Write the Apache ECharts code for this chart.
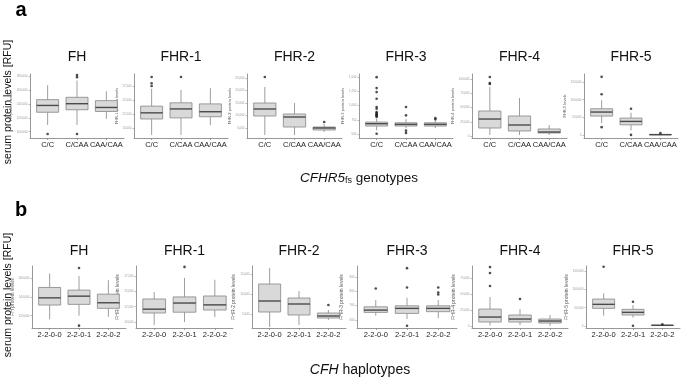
<!DOCTYPE html>
<html><head><meta charset="utf-8">
<script src="https://cdn.jsdelivr.net/npm/echarts@6/dist/echarts.min.js"></script>
<style>html,body{margin:0;padding:0;background:#fff}#c{width:685px;height:383px}</style>
</head><body><div id="c"></div>
<script>
// ---------------- DATA ----------------
const proteins = ['FH', 'FHR-1', 'FHR-2', 'FHR-3', 'FHR-4', 'FHR-5'];
const genotypes = ['C/C', 'C/CAA', 'CAA/CAA'];
const haplotypes = ['2-2-0-0', '2-2-0-1', '2-2-0-2'];
const yNamesA = ['FH protein levels', 'FHR-1 protein levels', 'FHR-2 protein levels', 'FHR-3 protein levels', 'FHR-4 protein levels', 'FHR-5 levels'];
const yNamesB = ['FH protein levels', 'FHR-1 protein levels', 'FHR-2 protein levels', 'FHR-3 protein levels', 'FHR-4 protein levels', 'FHR-5 protein levels'];

// box stats per group: [lower whisker, Q1, median, Q3, upper whisker]
// outliers: [group index, value]
// panel a (CFHR5fs genotypes)
const aFH = [[109700,128000,137800,146100,166900],[109700,131600,140300,149500,173700],[118500,129100,134900,144700,158200]];
const aFHout = [[0,96700],[1,181500],[1,178500],[1,96700]];
const aFHticks = [100000,120000,140000,160000,180000];

const aFHR1 = [[8750,11600,12700,13900,17000],[8750,11800,13400,14500,16800],[10500,12000,12900,14300,17100]];
const aFHR1out = [[0,19100],[0,18000],[0,17500],[1,19100]];
const aFHR1ticks = [10000,12500,15000,17500];

const aFHR2 = [[2200,9800,12600,15000,21400],[2200,5400,9400,10600,15000],[3400,4200,5000,5400,6600]];
const aFHR2out = [[0,25400],[2,7400]];
const aFHR2ticks = [5000,10000,15000,20000,25000];

const aFHR3 = [[565,640,681,710,768],[600,640,670,698,760],[605,640,670,698,733]];
const aFHR3out = [[0,1500],[0,1307],[0,1237],[0,1120],[0,974],[0,945],[0,886],[0,870],[0,856],[0,840],[0,828],[0,815],[0,798],[0,505],[1,974],[1,828],[1,560],[1,520],[2,781],[2,758]];
const aFHR3ticks = [500,750,1000,1250,1500];

const aFHR4 = [[1750,14000,29800,43900,86000],[1750,8800,19300,35100,66700],[1750,5300,7000,12300,19300]];
const aFHR4out = [[0,103500],[0,93000],[0,91200]];
const aFHR4ticks = [0,25000,50000,75000,100000];

const aFHR5 = [[34600,54300,65600,74800,98500],[14100,29800,39400,48700,63600],[1000,1800,2400,3000,3800]];
const aFHR5out = [[0,164000],[0,115400],[0,23400],[1,74800],[1,1700],[2,6500]];
const aFHR5ticks = [0,50000,100000,150000];

// panel b (CFH haplotypes)
const bFH = [[116200,131300,138900,149900,164600],[120000,132000,140700,147100,162100],[118900,127800,133700,142800,157600]];
const bFHout = [[1,170500],[1,109500]];
const bFHticks = [120000,140000,160000];

const bFHR1 = [[9500,11470,12100,13760,14900],[10000,11600,13100,14100,17200],[10800,11960,12800,14250,16900]];
const bFHR1out = [[1,19000]];
const bFHR1ticks = [10000,12500,15000,17500];

const bFHR2 = [[1750,5500,8250,12500,16500],[2250,4750,7500,9000,10750],[3500,4000,4500,5250,6000]];
const bFHR2out = [[2,7250]];
const bFHR2ticks = [5000,10000,15000];

const bFHR3 = [[630,653,669,692,739],[607,646,681,699,755],[612,658,681,699,739]];
const bFHR3out = [[0,820],[1,962],[1,827],[1,560],[2,827],[2,792],[2,778]];
const bFHR3ticks = [600,700,800,900];

const bFHR4 = [[1000,6250,14000,26500,45300],[1500,6250,10900,17200,26500],[500,4700,7800,10900,17200]];
const bFHR4out = [[0,92000],[0,82800],[0,62500],[1,42200]];
const bFHR4ticks = [0,25000,50000,75000];

const bFHR5 = [[28200,48200,59200,73600,89200],[22700,30000,37300,45500,57300],[500,1200,1800,2500,3500]];
const bFHR5out = [[0,161800],[1,66300],[1,800],[2,4500]];
const bFHR5ticks = [0,50000,100000,150000];

// ---------------- LAYOUT / STYLE ----------------
const FONT = '"Liberation Sans", Arial, Helvetica, sans-serif';
const AX = '#8c8c8c';
const L = {
  a: { left: [30, 134, 247, 359, 472, 584], width: [94, 94, 95, 94, 95, 94], top: 74, height: 64, titleY: 57,
       ranges: [[91000,183000],[8200,19650],[1000,26600],[430,1555],[-3500,108800],[-7000,172000]],
       nameSize: 4, nameGap: 13, catSize: 7.5 },
  b: { left: [32, 136, 252, 357, 472, 586], width: [94, 97, 94, 100, 96, 94], top: 266, height: 62, titleY: 251,
       ranges: [[107000,172600],[9020,19150],[1500,17000],[544,977],[-3100,93750],[-5500,164000]],
       nameSize: 5, nameGap: 13, catSize: 7.5 }
};

const rows = [
  { key: 'a', cats: genotypes, names: yNamesA,
    stats: [aFH, aFHR1, aFHR2, aFHR3, aFHR4, aFHR5],
    outs: [aFHout, aFHR1out, aFHR2out, aFHR3out, aFHR4out, aFHR5out],
    ticks: [aFHticks, aFHR1ticks, aFHR2ticks, aFHR3ticks, aFHR4ticks, aFHR5ticks] },
  { key: 'b', cats: haplotypes, names: yNamesB,
    stats: [bFH, bFHR1, bFHR2, bFHR3, bFHR4, bFHR5],
    outs: [bFHout, bFHR1out, bFHR2out, bFHR3out, bFHR4out, bFHR5out],
    ticks: [bFHticks, bFHR1ticks, bFHR2ticks, bFHR3ticks, bFHR4ticks, bFHR5ticks] }
];

function renderBox(params, api) {
  const x = api.value(0);
  const lo = api.coord([x, api.value(1)]);
  const q1 = api.coord([x, api.value(2)]);
  const md = api.coord([x, api.value(3)]);
  const q3 = api.coord([x, api.value(4)]);
  const hi = api.coord([x, api.value(5)]);
  const w = api.size([0.75, 0])[0];
  const cx = md[0];
  const st = { stroke: '#858585', lineWidth: 0.8, fill: null };
  return { type: 'group', children: [
    { type: 'line', shape: { x1: cx, y1: q3[1], x2: cx, y2: hi[1] }, style: st },
    { type: 'line', shape: { x1: cx, y1: q1[1], x2: cx, y2: lo[1] }, style: st },
    { type: 'rect', shape: { x: cx - w / 2, y: q3[1], width: w, height: q1[1] - q3[1] },
      style: { fill: '#d9d9d9', stroke: '#858585', lineWidth: 0.8 } },
    { type: 'line', shape: { x1: cx - w / 2, y1: md[1], x2: cx + w / 2, y2: md[1] },
      style: { stroke: '#4a4a4a', lineWidth: 1.4 } }
  ]};
}

const grids = [], xAxes = [], yAxes = [], series = [], graphics = [];
let gi = 0;
rows.forEach(row => {
  const lay = L[row.key];
  proteins.forEach((prot, k) => {
    const left = lay.left[k], width = lay.width[k];
    grids.push({ left: left, top: lay.top, width: width, height: lay.height });
    xAxes.push({
      gridIndex: gi, type: 'value', min: 0.4, max: 3.6,
      axisLine: { show: true, onZero: false, lineStyle: { color: AX, width: 0.9 } },
      axisTick: { show: true, customValues: [1, 2, 3], length: 2, lineStyle: { color: AX, width: 0.8 } },
      axisLabel: { show: true, customValues: [1, 2, 3], formatter: v => row.cats[Math.round(v) - 1],
                   hideOverlap: false, showMinLabel: true, showMaxLabel: true,
                   fontSize: lay.catSize, color: '#1a1a1a', fontFamily: FONT, margin: 3 },
      splitLine: { show: false }
    });
    yAxes.push({
      gridIndex: gi, type: 'value', min: lay.ranges[k][0], max: lay.ranges[k][1],
      name: row.names[k], nameLocation: 'middle', nameGap: lay.nameGap, nameRotate: 90,
      nameTextStyle: { fontSize: lay.nameSize, color: '#555', fontFamily: FONT },
      axisLine: { show: true, onZero: false, lineStyle: { color: AX, width: 0.9 } },
      axisTick: { show: true, customValues: row.ticks[k], length: 1.5, lineStyle: { color: AX, width: 0.6 } },
      axisLabel: { show: true, customValues: row.ticks[k], hideOverlap: false, fontSize: 3, color: '#999', fontFamily: FONT, margin: 2.5 },
      splitLine: { show: false }
    });
    series.push({
      type: 'custom', xAxisIndex: gi, yAxisIndex: gi, renderItem: renderBox,
      data: row.stats[k].map((s, i) => [i + 1].concat(s)),
      encode: { x: 0, y: [1, 2, 3, 4, 5] }, z: 2
    });
    series.push({
      type: 'scatter', xAxisIndex: gi, yAxisIndex: gi,
      data: row.outs[k].map(o => [o[0] + 1, o[1]]),
      symbolSize: 2.6, itemStyle: { color: '#222' }, z: 3
    });
    graphics.push({ type: 'text', x: left + width / 2, y: lay.titleY,
      style: { text: prot, font: '14px ' + FONT, fill: '#111', align: 'center', verticalAlign: 'middle',
               textAlign: 'center', textVerticalAlign: 'middle' } });
    gi++;
  });
});

// panel letters, shared axis labels
graphics.push({ type: 'text', x: 21, y: 10, style: { text: 'a', font: 'bold 20px ' + FONT, fill: '#000', align: 'center', verticalAlign: 'middle', textAlign: 'center', textVerticalAlign: 'middle' } });
graphics.push({ type: 'text', x: 21, y: 210, style: { text: 'b', font: 'bold 20px ' + FONT, fill: '#000', align: 'center', verticalAlign: 'middle', textAlign: 'center', textVerticalAlign: 'middle' } });
[[8, 102], [8, 295]].forEach(p => {
  graphics.push({ type: 'text', x: p[0], y: p[1], rotation: Math.PI / 2,
    style: { text: 'serum protein levels [RFU]', font: '10.5px ' + FONT, fill: '#111', align: 'center', verticalAlign: 'middle', textAlign: 'center', textVerticalAlign: 'middle' } });
});
graphics.push({ type: 'text', x: 359, y: 178,
  style: { text: '{i|CFHR5}{s|fs}{n| genotypes}', align: 'center', verticalAlign: 'middle', textAlign: 'center', textVerticalAlign: 'middle',
    rich: { i: { fontStyle: 'italic', fontSize: 13.5, fontFamily: FONT, fill: '#111', color: '#111' },
            s: { fontSize: 9, fontFamily: FONT, fill: '#111', color: '#111', verticalAlign: 'bottom', padding: [6, 0, 0, 0] },
            n: { fontSize: 13.5, fontFamily: FONT, fill: '#111', color: '#111' } } } });
graphics.push({ type: 'text', x: 360, y: 370,
  style: { text: '{i|CFH}{n| haplotypes}', align: 'center', verticalAlign: 'middle', textAlign: 'center', textVerticalAlign: 'middle',
    rich: { i: { fontStyle: 'italic', fontSize: 14, fontFamily: FONT, fill: '#111', color: '#111' },
            n: { fontSize: 14, fontFamily: FONT, fill: '#111', color: '#111' } } } });

const chart = echarts.init(document.getElementById('c'), null, { renderer: 'canvas' });
chart.setOption({
  animation: false,
  backgroundColor: '#fff',
  grid: grids, xAxis: xAxes, yAxis: yAxes, series: series,
  graphic: { elements: graphics }
});
</script>
</body></html>
